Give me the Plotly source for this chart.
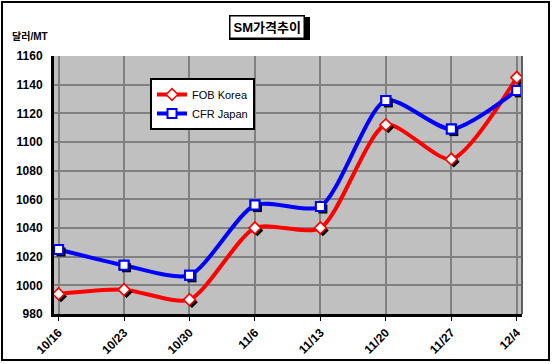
import plotly.graph_objects as go

dates = ["10/16", "10/23", "10/30", "11/6", "11/13", "11/20", "11/27", "12/4"]
fob_korea = [994, 997, 990, 1040, 1040, 1112, 1088, 1145]
cfr_japan = [1025, 1014, 1007, 1056, 1055, 1129, 1109, 1136]
y_ticks = [980, 1000, 1020, 1040, 1060, 1080, 1100, 1120, 1140, 1160]

FONT = "Arial, Liberation Sans, Noto Sans CJK KR, sans-serif"
W, H = 552, 364
ML, MR, MT, MB = 54, 30, 56, 50
PW, PH = W - ML - MR, H - MT - MB

def px(x):
    return (x - ML) / PW

def py(y):
    return (H - MB - y) / PH

XR = [-0.07, 7.08]
YR = [980, 1160]
# shadow offset in pixels (right, down)
SDX, SDY = 2.5, 2.5
xunit = (XR[1] - XR[0]) / PW
yunit = (YR[1] - YR[0]) / PH
XR_SH = [XR[0] - SDX * xunit, XR[1] - SDX * xunit]
YR_SH = [YR[0] + SDY * yunit, YR[1] + SDY * yunit]

xs = list(range(len(dates)))
fig = go.Figure()
fig.add_trace(go.Scatter(
    x=xs, y=fob_korea, name="FOB Korea",
    mode="lines+markers", line=dict(color="#FF0000", width=4, shape="spline", smoothing=0.7),
    marker=dict(symbol="diamond", size=9, color="white", line=dict(color="#FF0000", width=1.5)),
))
fig.add_trace(go.Scatter(
    x=xs, y=cfr_japan, name="CFR Japan",
    mode="lines+markers", line=dict(color="#0000FF", width=4, shape="spline", smoothing=0.7),
    marker=dict(symbol="square", size=9, color="white", line=dict(color="#0000FF", width=2)),
))
# marker shadows
fig.add_trace(go.Scatter(x=xs, y=fob_korea, mode="markers", showlegend=False, hoverinfo="skip",
                         xaxis="x2", yaxis="y2",
                         marker=dict(symbol="diamond", size=9, color="black")))
fig.add_trace(go.Scatter(x=xs, y=cfr_japan, mode="markers", showlegend=False, hoverinfo="skip",
                         xaxis="x2", yaxis="y2",
                         marker=dict(symbol="square", size=9, color="black")))
# markers on top
fig.add_trace(go.Scatter(x=xs, y=fob_korea, mode="markers", showlegend=False, hoverinfo="skip",
                         xaxis="x3", yaxis="y3",
                         marker=dict(symbol="diamond", size=9, color="white", line=dict(color="#FF0000", width=1.5))))
fig.add_trace(go.Scatter(x=xs, y=cfr_japan, mode="markers", showlegend=False, hoverinfo="skip",
                         xaxis="x3", yaxis="y3",
                         marker=dict(symbol="square", size=9, color="white", line=dict(color="#0000FF", width=2))))

shapes = [
    dict(type="rect", xref="paper", yref="paper", x0=px(2), x1=px(549), y0=py(360), y1=py(2),
         line=dict(color="black", width=2), fillcolor="rgba(0,0,0,0)", layer="below"),
    dict(type="rect", xref="paper", yref="paper", x0=px(229), x1=px(310), y0=py(40), y1=py(17),
         line=dict(width=0), fillcolor="black", layer="below"),
    dict(type="rect", xref="paper", yref="paper", x0=px(153), x1=px(253), y0=py(118), y1=py(81),
         line=dict(width=0), fillcolor="black", layer="above"),
    dict(type="line", xref="paper", yref="paper", x0=1, x1=1, y0=0, y1=1,
         line=dict(color="#606060", width=2)),
]

hidden = dict(visible=False, showgrid=False, zeroline=False, fixedrange=True)

fig.update_layout(
    width=W, height=H,
    margin=dict(l=ML, r=MR, t=MT, b=MB),
    paper_bgcolor="white", plot_bgcolor="#C0C0C0",
    font=dict(family=FONT, size=11, color="black"),
    showlegend=True,
    legend=dict(x=px(150), y=py(78), xanchor="left", yanchor="top",
                bgcolor="white", bordercolor="black", borderwidth=2,
                font=dict(family=FONT, size=11, color="black"),
                tracegroupgap=0, itemwidth=30),
    xaxis=dict(range=XR, tickmode="array", tickvals=xs, ticktext=dates,
               tickangle=-45, showgrid=True, gridcolor="#808080", gridwidth=1.5,
               showline=True, linecolor="black", linewidth=3, mirror=False,
               ticks="outside", ticklen=4, tickcolor="black", automargin=False,
               tickfont=dict(family=FONT, size=12, color="black", weight="bold"), zeroline=False),
    yaxis=dict(range=YR, tickmode="array", tickvals=y_ticks,
               showgrid=True, gridcolor="#808080", gridwidth=1.5,
               showline=True, linecolor="black", linewidth=3, automargin=False,
               ticks="", tickfont=dict(family=FONT, size=12, color="black", weight="bold"),
               zeroline=False, ticklabelstandoff=6),
    xaxis2=dict(range=XR_SH, overlaying="x", **hidden),
    yaxis2=dict(range=YR_SH, overlaying="y", **hidden),
    xaxis3=dict(range=XR, overlaying="x", **hidden),
    yaxis3=dict(range=YR, overlaying="y", **hidden),
    shapes=shapes,
    annotations=[
        dict(text="<b>SM가격추이</b>", xref="paper", yref="paper", x=px(267), y=py(27),
             xanchor="center", yanchor="middle", showarrow=False,
             font=dict(family="Arial, Noto Sans CJK KR, sans-serif", size=13, color="black"),
             bgcolor="white", bordercolor="black", borderwidth=1.5, borderpad=3),
        dict(text="<b>달러/MT</b>", xref="paper", yref="paper", x=px(10), y=py(36),
             xanchor="left", yanchor="middle", showarrow=False,
             font=dict(family="Arial, Noto Sans CJK KR, sans-serif", size=10, color="black")),
    ],
)

fig.write_html("out.html", config={"displayModeBar": False},
               post_script="document.body.style.margin='0';document.body.style.overflow='hidden';")
